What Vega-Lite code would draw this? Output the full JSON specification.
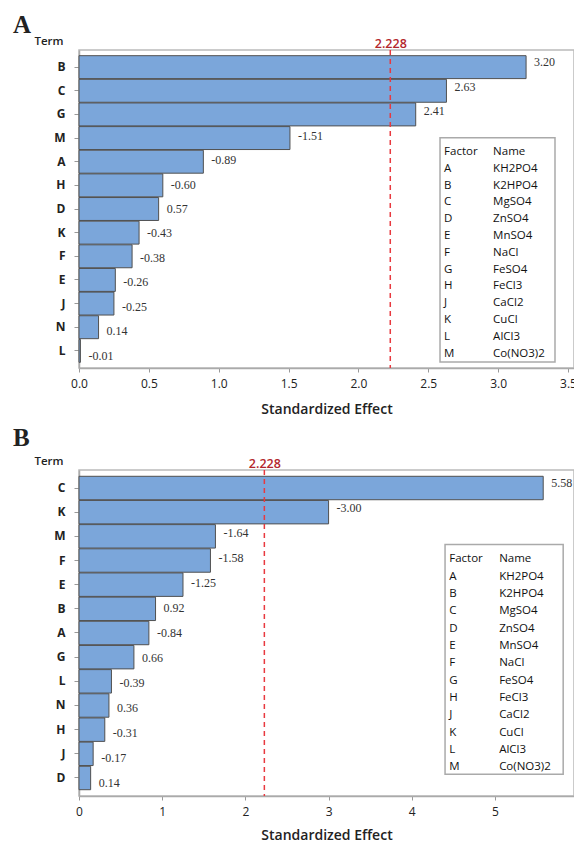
{
  "$schema": "https://vega.github.io/schema/vega-lite/v6.json",
  "padding": {"left": 12, "top": 12, "right": 0, "bottom": 0},
  "background": "white",
  "spacing": 8,
  "datasets": {
    "effectsA": [
      {"term": "B", "abs": 3.20, "effect": 3.20},
      {"term": "C", "abs": 2.63, "effect": 2.63},
      {"term": "G", "abs": 2.41, "effect": 2.41},
      {"term": "M", "abs": 1.51, "effect": -1.51},
      {"term": "A", "abs": 0.89, "effect": -0.89},
      {"term": "H", "abs": 0.60, "effect": -0.60},
      {"term": "D", "abs": 0.57, "effect": 0.57},
      {"term": "K", "abs": 0.43, "effect": -0.43},
      {"term": "F", "abs": 0.38, "effect": -0.38},
      {"term": "E", "abs": 0.26, "effect": -0.26},
      {"term": "J", "abs": 0.25, "effect": -0.25},
      {"term": "N", "abs": 0.14, "effect": 0.14},
      {"term": "L", "abs": 0.01, "effect": -0.01}
    ],
    "effectsB": [
      {"term": "C", "abs": 5.58, "effect": 5.58},
      {"term": "K", "abs": 3.00, "effect": -3.00},
      {"term": "M", "abs": 1.64, "effect": -1.64},
      {"term": "F", "abs": 1.58, "effect": -1.58},
      {"term": "E", "abs": 1.25, "effect": -1.25},
      {"term": "B", "abs": 0.92, "effect": 0.92},
      {"term": "A", "abs": 0.84, "effect": -0.84},
      {"term": "G", "abs": 0.66, "effect": 0.66},
      {"term": "L", "abs": 0.39, "effect": -0.39},
      {"term": "N", "abs": 0.36, "effect": 0.36},
      {"term": "H", "abs": 0.31, "effect": -0.31},
      {"term": "J", "abs": 0.17, "effect": -0.17},
      {"term": "D", "abs": 0.14, "effect": 0.14}
    ],
    "factors": [
      {"row": 0, "factor": "Factor", "name": "Name"},
      {"row": 1, "factor": "A", "name": "KH2PO4"},
      {"row": 2, "factor": "B", "name": "K2HPO4"},
      {"row": 3, "factor": "C", "name": "MgSO4"},
      {"row": 4, "factor": "D", "name": "ZnSO4"},
      {"row": 5, "factor": "E", "name": "MnSO4"},
      {"row": 6, "factor": "F", "name": "NaCl"},
      {"row": 7, "factor": "G", "name": "FeSO4"},
      {"row": 8, "factor": "H", "name": "FeCl3"},
      {"row": 9, "factor": "J", "name": "CaCl2"},
      {"row": 10, "factor": "K", "name": "CuCl"},
      {"row": 11, "factor": "L", "name": "AlCl3"},
      {"row": 12, "factor": "M", "name": "Co(NO3)2"}
    ],
    "threshold": [{"t": 2.228}],
    "box": [{}]
  },
  "vconcat": [
    {
      "width": 495,
      "height": 318,
      "title": {"text": "A", "anchor": "start", "frame": "group", "font": "Liberation Serif", "fontSize": 25, "fontWeight": "bold", "color": "#222", "dx": -66, "offset": -3},
      "resolve": {"scale": {"y": "independent"}, "axis": {"x": "independent", "y": "independent"}},
      "layer": [
        {
          "data": {"name": "effectsA"},
          "mark": {"type": "bar", "fill": "#7BA6DA", "stroke": "#505050", "strokeWidth": 1},
          "encoding": {
            "y": {"field": "term", "type": "nominal", "sort": null,
                  "scale": {"paddingInner": 0.03, "paddingOuter": 0.24},
                  "axis": {"title": "Term", "titleAngle": 0, "titleX": -16, "titleY": -6, "titleAlign": "right", "titleBaseline": "alphabetic", "titleFontSize": 11.5, "titleFontWeight": 600, "titleFont": "Open Sans", "titleColor": "#222", "labelFont": "Open Sans", "labelFontWeight": "bold", "labelFontSize": 12, "labelColor": "#222", "labelPadding": 9, "tickSize": 5, "tickColor": "#999", "domainColor": "#aaa", "domainWidth": 1.5}},
            "x": {"field": "abs", "type": "quantitative", "scale": {"domain": [0, 3.543], "nice": false},
                  "axis": {"title": "Standardized Effect", "values": [0, 0.5, 1, 1.5, 2, 2.5, 3, 3.5], "format": ".1f", "grid": false, "titleFont": "Open Sans", "titleFontSize": 14, "titleFontWeight": 600, "titleColor": "#222", "titlePadding": 13, "labelFont": "Open Sans", "labelFontSize": 12, "labelColor": "#222", "labelPadding": 6, "tickSize": 4, "tickColor": "#999", "domainColor": "#aaa", "domainWidth": 1.5, "labelFlush": false}}
          }
        },
        {
          "data": {"name": "effectsA"},
          "mark": {"type": "text", "align": "left", "baseline": "middle", "dx": 8, "font": "Liberation Serif", "fontSize": 12, "color": "#333"},
          "encoding": {
            "y": {"field": "term", "type": "nominal", "sort": null, "scale": {"paddingInner": 0.03, "paddingOuter": 0.24}, "axis": null},
            "x": {"field": "abs", "type": "quantitative", "scale": {"domain": [0, 3.543], "nice": false}, "axis": null},
            "text": {"field": "effect", "type": "quantitative", "format": ".2f"}
          }
        },
        {
          "data": {"name": "threshold"},
          "mark": {"type": "rule", "color": "#E8393F", "strokeWidth": 1.5, "strokeDash": [5, 4]},
          "encoding": {
            "x": {"field": "t", "type": "quantitative", "scale": {"domain": [0, 3.543], "nice": false},
                  "axis": {"orient": "top", "title": null, "values": [2.228], "format": ".3f", "ticks": false, "domain": false, "grid": false, "labelFont": "Open Sans", "labelFontSize": 12.5, "labelFontWeight": 600, "labelColor": "#B3262C", "labelPadding": 0}}
          }
        },
        {
          "data": {"name": "box"},
          "mark": {"type": "rect", "fill": "white", "stroke": "#aaa", "strokeWidth": 1.5},
          "encoding": {
            "x": {"datum": 2.584, "type": "quantitative", "scale": {"domain": [0, 3.543], "nice": false}, "axis": null},
            "x2": {"datum": 3.407},
            "y": {"datum": -0.85, "type": "quantitative", "scale": {"domain": [-6.07, 12.86], "reverse": true, "nice": false, "zero": false}, "axis": null},
            "y2": {"datum": 12.5}
          }
        },
        {
          "data": {"name": "factors"},
          "mark": {"type": "text", "align": "left", "baseline": "middle", "font": "Open Sans", "fontSize": 11.5, "color": "#111"},
          "encoding": {
            "x": {"datum": 2.613, "type": "quantitative", "scale": {"domain": [0, 3.543], "nice": false}, "axis": null},
            "y": {"field": "row", "type": "quantitative", "scale": {"domain": [-6.07, 12.86], "reverse": true, "nice": false, "zero": false}, "axis": null},
            "text": {"field": "factor"}
          }
        },
        {
          "data": {"name": "factors"},
          "mark": {"type": "text", "align": "left", "baseline": "middle", "font": "Open Sans", "fontSize": 11.5, "color": "#111"},
          "encoding": {
            "x": {"datum": 2.964, "type": "quantitative", "scale": {"domain": [0, 3.543], "nice": false}, "axis": null},
            "y": {"field": "row", "type": "quantitative", "scale": {"domain": [-6.07, 12.86], "reverse": true, "nice": false, "zero": false}, "axis": null},
            "text": {"field": "name"}
          }
        }
      ]
    },
    {
      "width": 495,
      "height": 326,
      "title": {"text": "B", "anchor": "start", "frame": "group", "font": "Liberation Serif", "fontSize": 25, "fontWeight": "bold", "color": "#222", "dx": -66, "offset": 4},
      "resolve": {"scale": {"y": "independent"}, "axis": {"x": "independent", "y": "independent"}},
      "layer": [
        {
          "data": {"name": "effectsB"},
          "mark": {"type": "bar", "fill": "#7BA6DA", "stroke": "#505050", "strokeWidth": 1},
          "encoding": {
            "y": {"field": "term", "type": "nominal", "sort": null,
                  "scale": {"paddingInner": 0.03, "paddingOuter": 0.26},
                  "axis": {"title": "Term", "titleAngle": 0, "titleX": -16, "titleY": -6, "titleAlign": "right", "titleBaseline": "alphabetic", "titleFontSize": 11.5, "titleFontWeight": 600, "titleFont": "Open Sans", "titleColor": "#222", "labelFont": "Open Sans", "labelFontWeight": "bold", "labelFontSize": 12, "labelColor": "#222", "labelPadding": 9, "tickSize": 5, "tickColor": "#999", "domainColor": "#aaa", "domainWidth": 1.5}},
            "x": {"field": "abs", "type": "quantitative", "scale": {"domain": [0, 5.95], "nice": false},
                  "axis": {"title": "Standardized Effect", "values": [0, 1, 2, 3, 4, 5], "format": "d", "grid": false, "titleFont": "Open Sans", "titleFontSize": 14, "titleFontWeight": 600, "titleColor": "#222", "titlePadding": 11, "labelFont": "Open Sans", "labelFontSize": 12, "labelColor": "#222", "labelPadding": 6, "tickSize": 4, "tickColor": "#999", "domainColor": "#aaa", "domainWidth": 1.5, "labelFlush": false}}
          }
        },
        {
          "data": {"name": "effectsB"},
          "mark": {"type": "text", "align": "left", "baseline": "middle", "dx": 8, "font": "Liberation Serif", "fontSize": 12, "color": "#333"},
          "encoding": {
            "y": {"field": "term", "type": "nominal", "sort": null, "scale": {"paddingInner": 0.03, "paddingOuter": 0.26}, "axis": null},
            "x": {"field": "abs", "type": "quantitative", "scale": {"domain": [0, 5.95], "nice": false}, "axis": null},
            "text": {"field": "effect", "type": "quantitative", "format": ".2f"}
          }
        },
        {
          "data": {"name": "threshold"},
          "mark": {"type": "rule", "color": "#E8393F", "strokeWidth": 1.5, "strokeDash": [5, 4]},
          "encoding": {
            "x": {"field": "t", "type": "quantitative", "scale": {"domain": [0, 5.95], "nice": false},
                  "axis": {"orient": "top", "title": null, "values": [2.228], "format": ".3f", "ticks": false, "domain": false, "grid": false, "labelFont": "Open Sans", "labelFontSize": 12.5, "labelFontWeight": 600, "labelColor": "#B3262C", "labelPadding": 0}}
          }
        },
        {
          "data": {"name": "box"},
          "mark": {"type": "rect", "fill": "white", "stroke": "#aaa", "strokeWidth": 1.5},
          "encoding": {
            "x": {"datum": 4.40, "type": "quantitative", "scale": {"domain": [0, 5.95], "nice": false}, "axis": null},
            "x2": {"datum": 5.82},
            "y": {"datum": -0.85, "type": "quantitative", "scale": {"domain": [-5.15, 13.66], "reverse": true, "nice": false, "zero": false}, "axis": null},
            "y2": {"datum": 12.41}
          }
        },
        {
          "data": {"name": "factors"},
          "mark": {"type": "text", "align": "left", "baseline": "middle", "font": "Open Sans", "fontSize": 11.5, "color": "#111"},
          "encoding": {
            "x": {"datum": 4.45, "type": "quantitative", "scale": {"domain": [0, 5.95], "nice": false}, "axis": null},
            "y": {"field": "row", "type": "quantitative", "scale": {"domain": [-5.15, 13.66], "reverse": true, "nice": false, "zero": false}, "axis": null},
            "text": {"field": "factor"}
          }
        },
        {
          "data": {"name": "factors"},
          "mark": {"type": "text", "align": "left", "baseline": "middle", "font": "Open Sans", "fontSize": 11.5, "color": "#111"},
          "encoding": {
            "x": {"datum": 5.05, "type": "quantitative", "scale": {"domain": [0, 5.95], "nice": false}, "axis": null},
            "y": {"field": "row", "type": "quantitative", "scale": {"domain": [-5.15, 13.66], "reverse": true, "nice": false, "zero": false}, "axis": null},
            "text": {"field": "name"}
          }
        }
      ]
    }
  ],
  "config": {
    "locale": {"number": {"decimal": ".", "thousands": ",", "grouping": [3], "currency": ["$", ""], "minus": "-"}},
    "view": {"stroke": "#bbb", "strokeWidth": 1.5},
    "axis": {"grid": false}
  }
}
